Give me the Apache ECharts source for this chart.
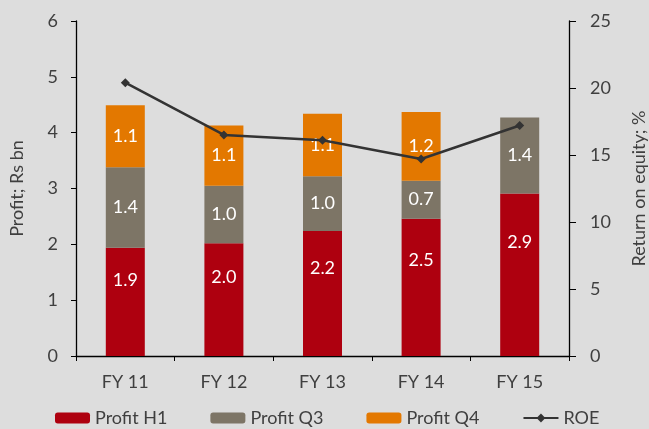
<!DOCTYPE html>
<html>
<head>
<meta charset="utf-8">
<script src="https://cdn.jsdelivr.net/npm/echarts@6/dist/echarts.min.js"></script>
<style>
  html, body { margin: 0; padding: 0; background: #dddddd; }
  #chart { width: 649px; height: 429px; }
</style>
</head>
<body>
<div id="chart"></div>
<script>
// categories and series values (Rs bn, ROE %)
const years = ['FY 11', 'FY 12', 'FY 13', 'FY 14', 'FY 15'];
const profitH1 = [1.94, 2.02, 2.24, 2.46, 2.91];
const profitQ3 = [1.44, 1.03, 0.98, 0.68, 1.36];
const profitQ4 = [1.11, 1.08, 1.12, 1.23, 0];
const roe = [20.4, 16.5, 16.1, 14.7, 17.2];

const textColor = '#3f3f3f';
const font = 'Lato, "Open Sans", sans-serif';
const fs = 18;

const chart = echarts.init(document.getElementById('chart'), null, { renderer: 'canvas' });

// label for stacked segments, hide zero values
function segLabel(pos) {
  return {
    show: true,
    position: pos,
    color: '#fff',
    fontSize: fs,
    fontFamily: font,
    align: 'center',
    verticalAlign: 'middle',
    formatter: p => (p.value > 0 ? p.value.toFixed(1) : '')
  };
}

const axisLine = { show: true, lineStyle: { color: '#000', width: 1.3 } };

chart.setOption({
  backgroundColor: '#dddddd',
  animation: false,
  textStyle: { fontFamily: font },
  grid: { left: 76, right: 80, top: 21, bottom: 73, outerBoundsMode: 'none' },
  legend: {
    left: 50,
    bottom: -3,
    itemWidth: 35,
    itemHeight: 11,
    itemGap: 43,
    textStyle: { color: textColor, fontSize: fs, fontFamily: font },
    data: ['Profit H1', 'Profit Q3', 'Profit Q4', 'ROE']
  },
  xAxis: {
    type: 'category',
    data: years,
    axisLine: axisLine,
    axisTick: { show: true, length: 5, lineStyle: { color: '#000' } },
    axisLabel: { color: textColor, fontSize: fs, margin: 17 }
  },
  yAxis: [
    {
      type: 'value',
      min: 0, max: 6, interval: 1,
      name: 'Profit; Rs bn',
      nameLocation: 'middle',
      nameGap: 50,
      nameTextStyle: { color: textColor, fontSize: fs },
      axisLine: axisLine,
      axisTick: { show: true, length: 5, lineStyle: { color: '#000' } },
      axisLabel: { color: textColor, fontSize: fs, margin: 18 },
      splitLine: { show: false }
    },
    {
      type: 'value',
      min: 0, max: 25, interval: 5,
      name: 'Return on equity; %',
      nameLocation: 'middle',
      nameGap: 61,
      nameTextStyle: { color: textColor, fontSize: fs },
      axisLine: axisLine,
      axisTick: { show: true, length: 7, lineStyle: { color: '#000' } },
      axisLabel: { color: textColor, fontSize: fs, margin: 21 },
      splitLine: { show: false }
    }
  ],
  series: [
    {
      name: 'Profit H1', type: 'bar', stack: 'p', barWidth: 39,
      itemStyle: { color: '#ae000f' },
      label: segLabel(['50%', '30%']),
      data: profitH1
    },
    {
      name: 'Profit Q3', type: 'bar', stack: 'p', barWidth: 39,
      itemStyle: { color: '#7d7566' },
      label: segLabel('inside'),
      data: profitQ3
    },
    {
      name: 'Profit Q4', type: 'bar', stack: 'p', barWidth: 39,
      itemStyle: { color: '#e37800' },
      label: segLabel('inside'),
      data: profitQ4
    },
    {
      name: 'ROE', type: 'line', yAxisIndex: 1,
      symbol: 'diamond', symbolSize: 9,
      lineStyle: { color: '#333', width: 2.5 },
      itemStyle: { color: '#333' },
      data: roe
    }
  ]
});
</script>
</body>
</html>
